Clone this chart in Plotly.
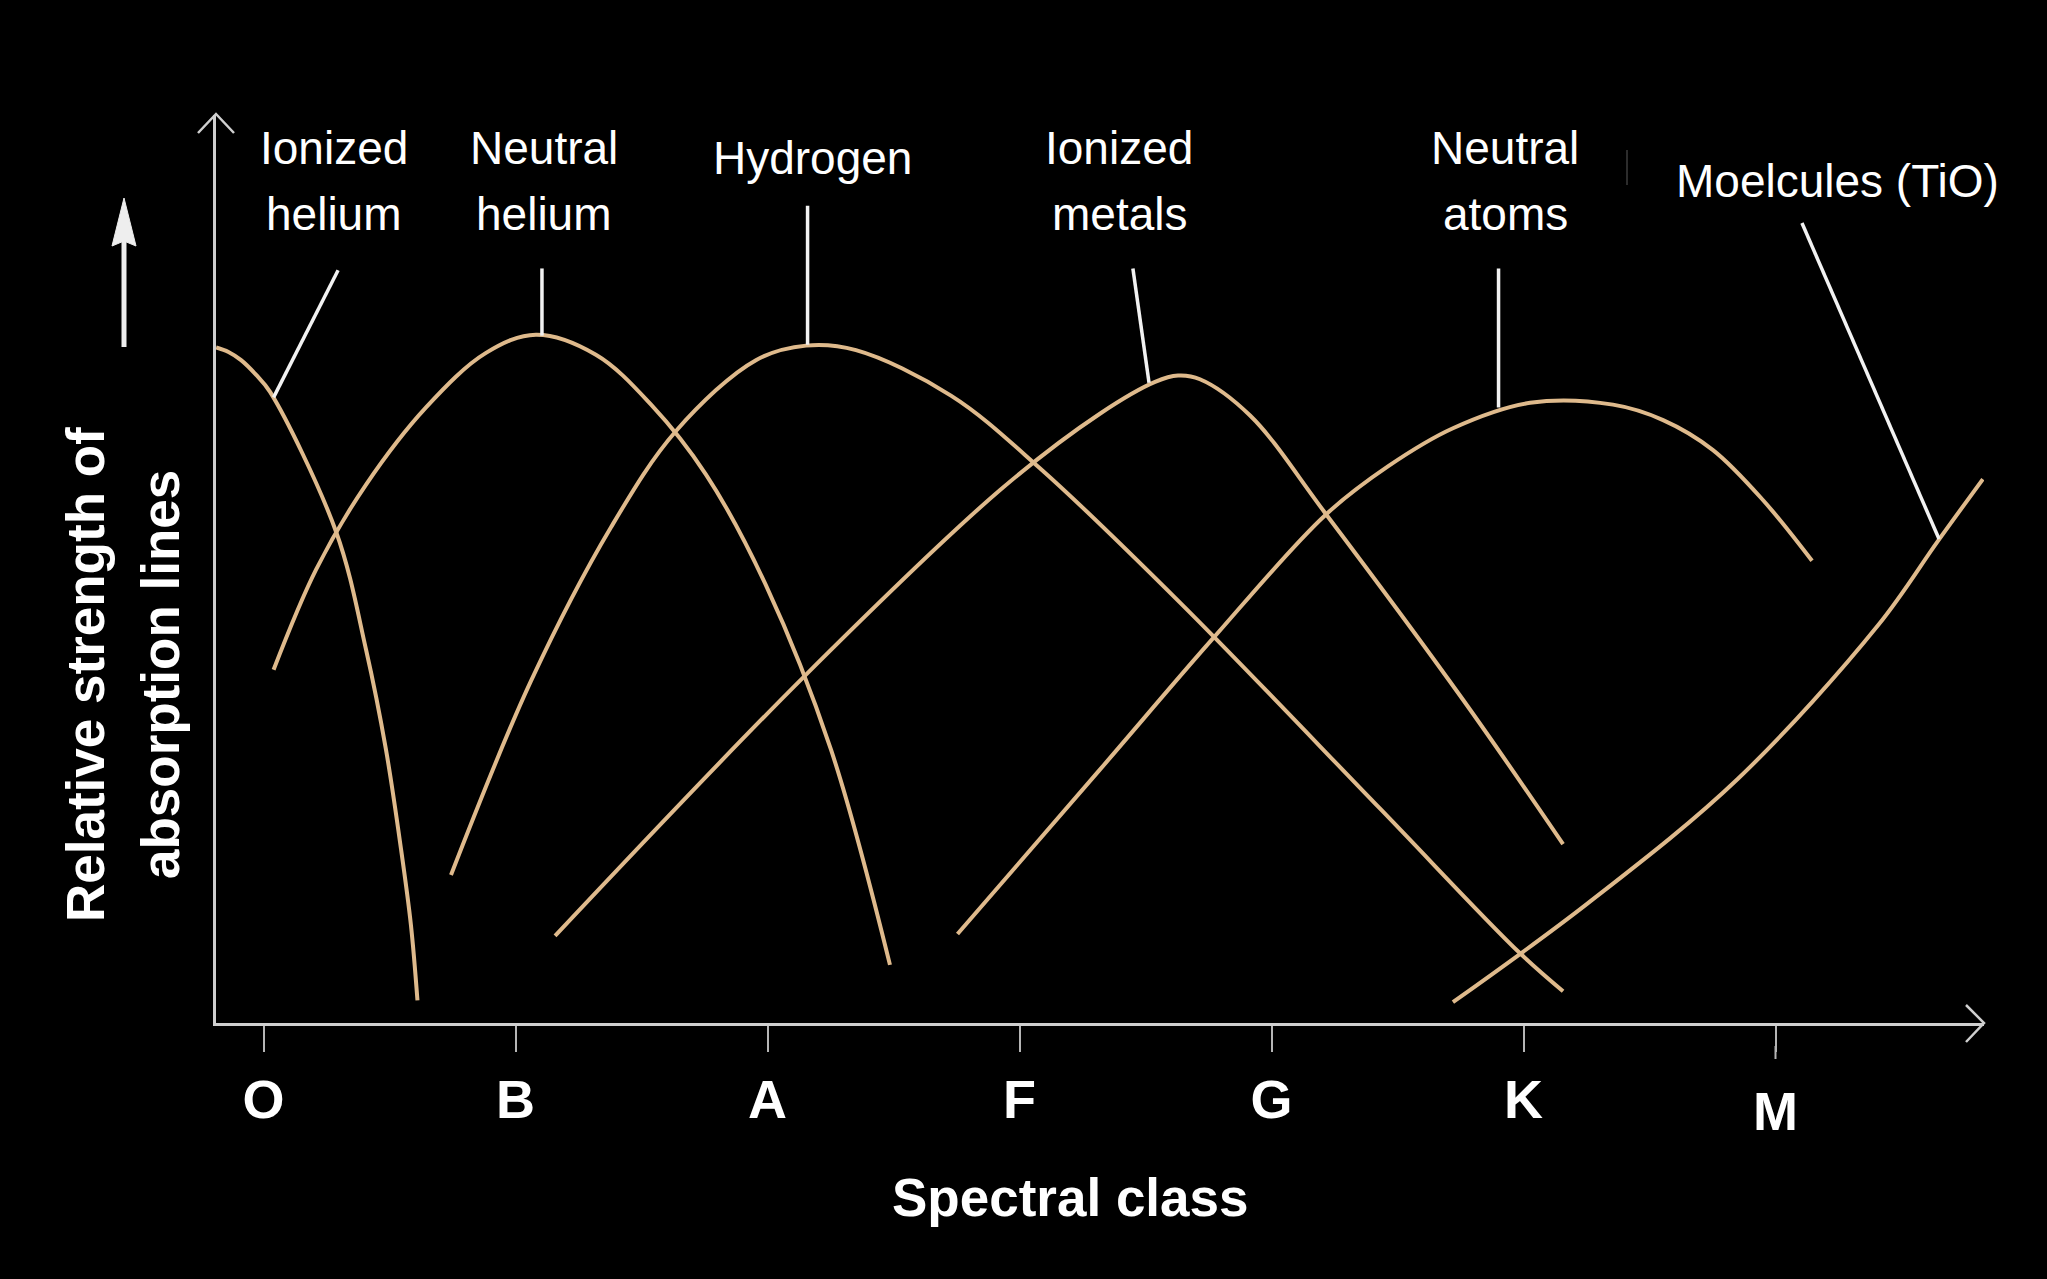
import plotly.graph_objects as go

# ---------------- data (x in spectral-class units: O=0 ... M=6; y = relative strength 0..100)
classes = ["O", "B", "A", "F", "G", "K", "M"]
class_pos = [0, 1, 2, 3, 4, 5, 6]

ion_he_x = [-0.188, -0.139, -0.089, -0.030, 0.026, 0.288, 0.407, 0.486, 0.546, 0.585, 0.611]
ion_he_y = [74.4, 73.9, 73.0, 71.4, 69.5, 54.1, 41.1, 30.1, 19.1, 10.8, 2.5]

neu_he_x = [0.040, 0.208, 0.407, 0.645, 0.883, 1.081, 1.319, 1.538, 1.756, 1.994, 2.252, 2.486]
neu_he_y = [38.9, 49.9, 59.3, 67.8, 73.8, 75.8, 73.6, 68.1, 60.4, 48.2, 30.1, 6.4]

hyd_x = [0.744, 1.062, 1.379, 1.637, 1.954, 2.153, 2.351, 2.728, 3.081, 3.637, 4.431, 4.978, 5.157]
hyd_y = [16.3, 37.7, 54.6, 65.2, 73.0, 74.6, 74.1, 69.1, 61.1, 46.3, 23.6, 7.9, 3.5]

ion_met_x = [1.157, 2.143, 2.923, 3.319, 3.538, 3.629, 3.716, 3.915, 4.212, 4.760, 5.157]
ion_met_y = [9.6, 38.1, 58.7, 67.1, 70.6, 71.3, 70.9, 66.9, 56.2, 35.6, 19.7]

neu_at_x = [2.754, 3.319, 3.766, 4.212, 4.462, 4.720, 5.026, 5.355, 5.554, 5.752, 5.950, 6.145]
neu_at_y = [9.8, 27.9, 42.3, 55.9, 61.3, 65.5, 68.3, 68.1, 66.4, 63.1, 57.6, 50.9]

mol_x = [4.720, 5.256, 5.851, 6.407, 6.645, 6.823]
mol_y = [2.3, 13.2, 26.9, 43.8, 53.1, 59.9]

series = [
    ("Ionized helium", ion_he_x, ion_he_y),
    ("Neutral helium", neu_he_x, neu_he_y),
    ("Hydrogen", hyd_x, hyd_y),
    ("Ionized metals", ion_met_x, ion_met_y),
    ("Neutral atoms", neu_at_x, neu_at_y),
    ("Moelcules (TiO)", mol_x, mol_y),
]

# leader lines: label end -> point on the curve (data units)
leader_x0 = [0.296, 1.105, 2.159, 3.450, 4.901, 6.105]
leader_y0 = [82.9, 83.1, 90.0, 83.1, 83.1, 88.1]
leader_x1 = [0.040, 1.105, 2.159, 3.514, 4.901, 6.649]
leader_y1 = [68.9, 75.7, 74.7, 70.5, 67.8, 53.3]

label_lines = [
    ["Ionized", "helium"],
    ["Neutral", "helium"],
    ["Hydrogen"],
    ["Ionized", "metals"],
    ["Neutral", "atoms"],
    ["Moelcules (TiO)"],
]

# ---------------- layout geometry (pixels)
W, H = 2047, 1279
L, R, T, B = 216, 1984, 115, 1023
XMIN, XMAX = -0.1885, 6.8274

def px(xp):
    return (xp - L) / (R - L)

def py(yp):
    return (B - yp) / (B - T)

FONT = "Liberation Sans, Arial, sans-serif"
CURVE = "#dfba8c"
AX = "#cfcfcf"

fig = go.Figure()
for name, xs, ys in series:
    fig.add_trace(go.Scatter(x=xs, y=ys, mode="lines", name=name,
                             line=dict(color=CURVE, width=4, shape="spline", smoothing=1.0,
                                       simplify=False),
                             hoverinfo="skip", showlegend=False))

shapes = []
for x0, y0, x1, y1 in zip(leader_x0, leader_y0, leader_x1, leader_y1):
    shapes.append(dict(type="line", xref="x", yref="y", x0=x0, y0=y0, x1=x1, y1=y1,
                       line=dict(color="#f2f2f2", width=3.5), layer="above"))

# y-axis arrowhead (open chevron)
shapes.append(dict(type="path", xref="paper", yref="paper",
                   path=f"M {px(198)} {py(133)} L {px(216)} {py(114)} L {px(234)} {py(133)}",
                   line=dict(color=AX, width=2.5)))
# x-axis arrowhead
shapes.append(dict(type="path", xref="paper", yref="paper",
                   path=f"M {px(1966)} {py(1005)} L {px(1984)} {py(1023)} L {px(1966)} {py(1042)}",
                   line=dict(color=AX, width=2.5)))
# the M tick is drawn a little longer in the original
shapes.append(dict(type="line", xref="paper", yref="paper",
                   x0=px(1775.5), y0=py(1046), x1=px(1775.5), y1=py(1059),
                   line=dict(color="#b5b5b5", width=2)))
# small up arrow at the left
shapes.append(dict(type="line", xref="paper", yref="paper",
                   x0=px(124), y0=py(347), x1=px(124), y1=py(240),
                   line=dict(color="#eeeeee", width=5)))
shapes.append(dict(type="path", xref="paper", yref="paper",
                   path=f"M {px(124)} {py(198)} L {px(136)} {py(246)} L {px(124)} {py(241)} L {px(112)} {py(246)} Z",
                   fillcolor="#eeeeee", line=dict(color="#eeeeee", width=1)))
# faint stray mark
shapes.append(dict(type="line", xref="paper", yref="paper",
                   x0=px(1627), y0=py(150), x1=px(1627), y1=py(185),
                   line=dict(color="#2c2c2c", width=2)))

annotations = []
label_cx = [334, 544, 812, 1119, 1505, 1837]
label_cy = [[148, 214], [148, 214], [158], [148, 214], [148, 214], [181]]
for lines, cx, cys in zip(label_lines, label_cx, label_cy):
    for txt, cy in zip(lines, cys):
        annotations.append(dict(text=txt, xref="paper", yref="paper", x=px(cx), y=py(cy),
                                xanchor="center", yanchor="middle", showarrow=False,
                                font=dict(family=FONT, size=46, color="white")))

# "M" label sits slightly lower than the others in the original
annotations.append(dict(text="M", xref="x", yref="paper", x=class_pos[6], y=py(1111),
                        xanchor="center", yanchor="middle", showarrow=False,
                        font=dict(family=FONT, size=54, color="white", weight="bold")))

annotations.append(dict(text="Spectral class", xref="paper", yref="paper", x=px(1070), y=py(1197),
                        xanchor="center", yanchor="middle", showarrow=False,
                        font=dict(family=FONT, size=53, color="white", weight="bold")))
for txt, cx in [("Relative strength of", 85), ("absorption lines", 160)]:
    annotations.append(dict(text=txt, xref="paper", yref="paper", x=px(cx), y=py(675),
                            xanchor="center", yanchor="middle", showarrow=False, textangle=-90,
                            font=dict(family=FONT, size=53, color="white", weight="bold")))

fig.update_layout(
    width=W, height=H,
    margin=dict(l=L, r=W - R, t=T, b=H - B, pad=0),
    paper_bgcolor="black", plot_bgcolor="black",
    shapes=shapes, annotations=annotations,
    xaxis=dict(range=[XMIN, XMAX], tickvals=class_pos, ticktext=classes[:6] + [""],
               showgrid=False, zeroline=False, showline=True, linecolor=AX, linewidth=2.5,
               ticks="outside", ticklen=26, tickwidth=2, tickcolor="#b5b5b5",
               tickfont=dict(family=FONT, size=54, color="white", weight="bold"),
               ticklabelstandoff=1, fixedrange=True),
    yaxis=dict(range=[0, 100], showgrid=False, zeroline=False, showline=True, linecolor=AX,
               linewidth=2.5, showticklabels=False, ticks="", fixedrange=True),
    showlegend=False,
)

fig.write_html("out.html")
